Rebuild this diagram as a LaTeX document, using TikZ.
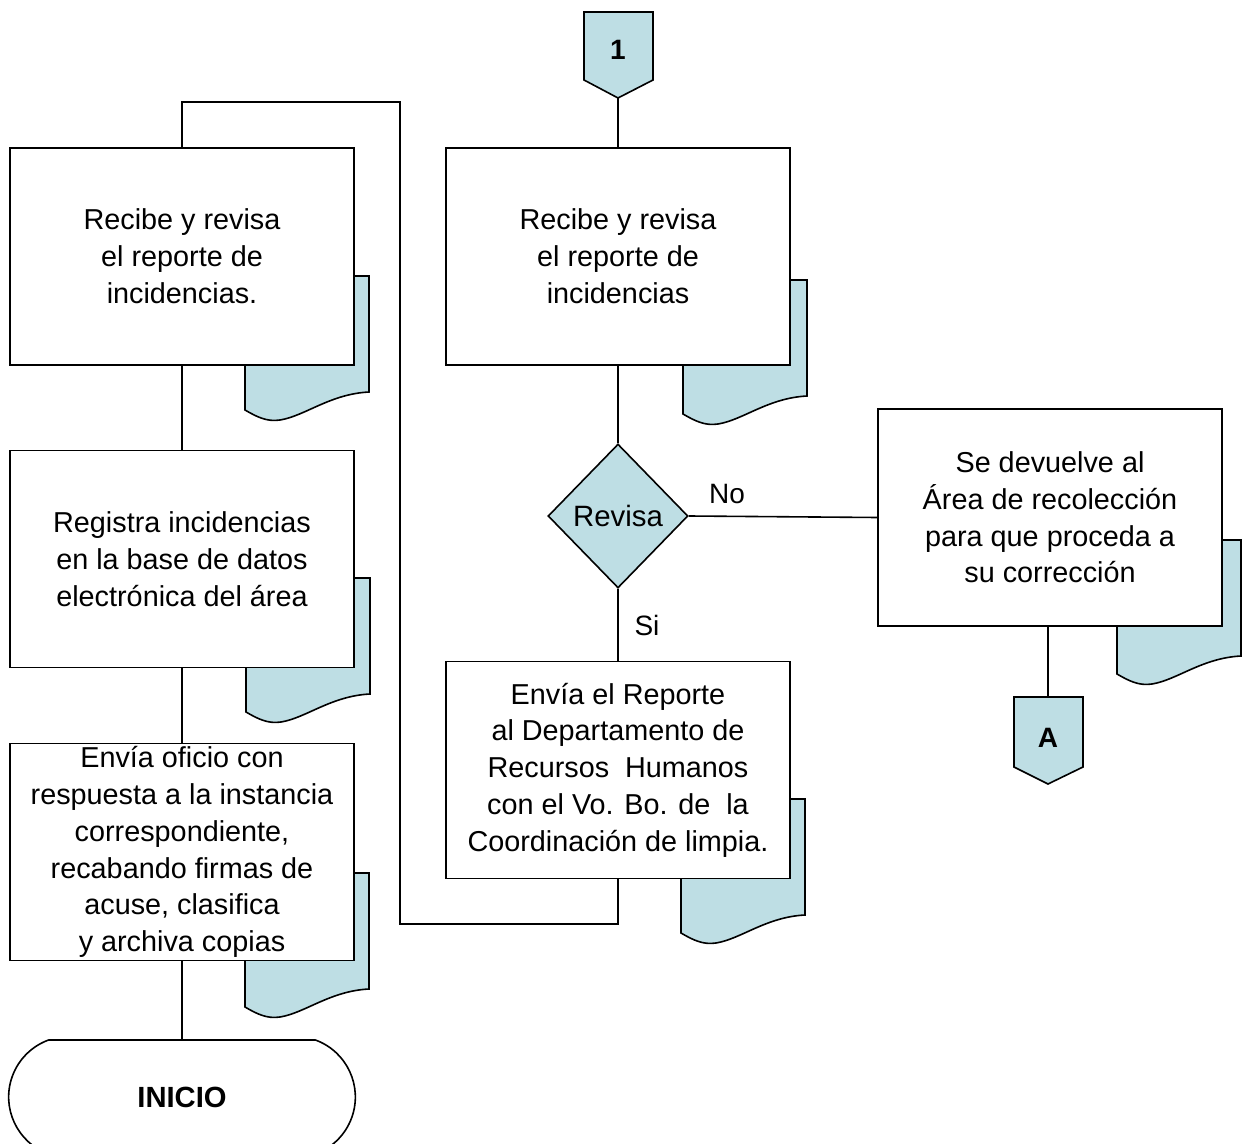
\documentclass[tikz,border=0pt]{standalone}
\usepackage{fontspec}
\setmainfont{Liberation Sans}
\usetikzlibrary{shapes.geometric,shapes.misc}

\definecolor{azulhoja}{RGB}{190,222,228}

\tikzset{
    caja/.style={draw,fill=white,minimum width=172pt,minimum height=108.5pt,
        align=center,inner sep=0pt,font=\fontsize{14.4}{18.4}\selectfont},
    hoja/.style={draw,fill=azulhoja},
    docsheet/.pic={
        \draw[hoja] (0,0) -- (124,0) -- (124,116)
            .. controls (85,118) and (60,140) .. (35,144)
            .. controls (22,146) and (12,141) .. (0,134) -- cycle;
    },
    rombo/.style={diamond,draw,fill=azulhoja,minimum width=70pt,minimum height=72pt,
        inner sep=0pt,font=\fontsize{14.7}{16}\selectfont},
    terminal/.style={rounded rectangle,rounded rectangle arc length=140,draw,fill=white,
        minimum width=180pt,minimum height=57pt,font=\bfseries\fontsize{14.6}{16}\selectfont},
    conector/.style={draw,fill=azulhoja},
    etiq/.style={font=\fontsize{14}{16}\selectfont}
}

\begin{document}
\begin{tikzpicture}[x=0.5pt,y=-0.5pt,line width=0.8pt]
    \useasboundingbox (0,0) rectangle (1243,1144);

    % hojas de documento (detras de las cajas)
    \pic at (245,276) {docsheet};
    \pic at (683,280) {docsheet};
    \pic at (246,578) {docsheet};
    \pic at (245,873) {docsheet};
    \pic at (681,799) {docsheet};
    \pic at (1117,540) {docsheet};

    % conectores de pagina
    \draw[conector] (584,12) -- (653,12) -- (653,80) -- (618,98) -- (584,80) -- cycle;
    \node[font=\bfseries\fontsize{14}{16}\selectfont] (uno) at (618,50) {1};
    \coordinate (unopunta) at (618,98);
    \draw[conector] (1014,697) -- (1083,697) -- (1083,767) -- (1048,784) -- (1014,767) -- cycle;
    \node[font=\bfseries\fontsize{14}{16}\selectfont] (letraA) at (1048,738) {A};
    \coordinate (letraAarriba) at (1048,697);

    % cajas
    \node[caja] (recibeizq) at (182,256.5) {Recibe y revisa\\el reporte de\\incidencias.};
    \node[caja] (recibeder) at (618,256.5) {Recibe y revisa\\el reporte de\\incidencias};
    \node[caja] (registra) at (182,559) {Registra incidencias\\en la base de datos\\electrónica del área};
    \node[caja] (oficio) at (182,852) {Envía oficio con\\respuesta a la instancia\\correspondiente,\\recabando firmas de\\acuse, clasifica\\y archiva copias};
    \node[caja] (envia) at (618,770) {Envía el Reporte\\al Departamento de\\Recursos\ \ Humanos\\con el Vo. Bo. de\ \ la\\Coordinación de limpia.};
    \node[caja] (devuelve) at (1050,517.5) {Se devuelve al\\Área de recolección\\para que proceda a\\su corrección};
    \node[rombo] (revisa) at (618,516) {Revisa};
    \node[terminal] (inicio) at (182,1097) {INICIO};

    % etiquetas
    \node[etiq] (no) at (727,494) {No};
    \node[etiq] (si) at (647,625) {Si};

    % lineas
    \draw (unopunta) -- (recibeder.north);
    \draw (recibeder.south) -- (revisa.north);
    \draw (revisa.south) -- (envia.north);
    \draw (revisa.east) -- (devuelve.west);
    \draw (devuelve.south -| letraAarriba) -- (letraAarriba);
    \draw (envia.south) -- (618,924) -- (400,924) -- (400,102) -| (recibeizq.north);
    \draw (recibeizq.south) -- (registra.north);
    \draw (registra.south) -- (oficio.north);
    \draw (oficio.south) -- (inicio.north);
\end{tikzpicture}
\end{document}
